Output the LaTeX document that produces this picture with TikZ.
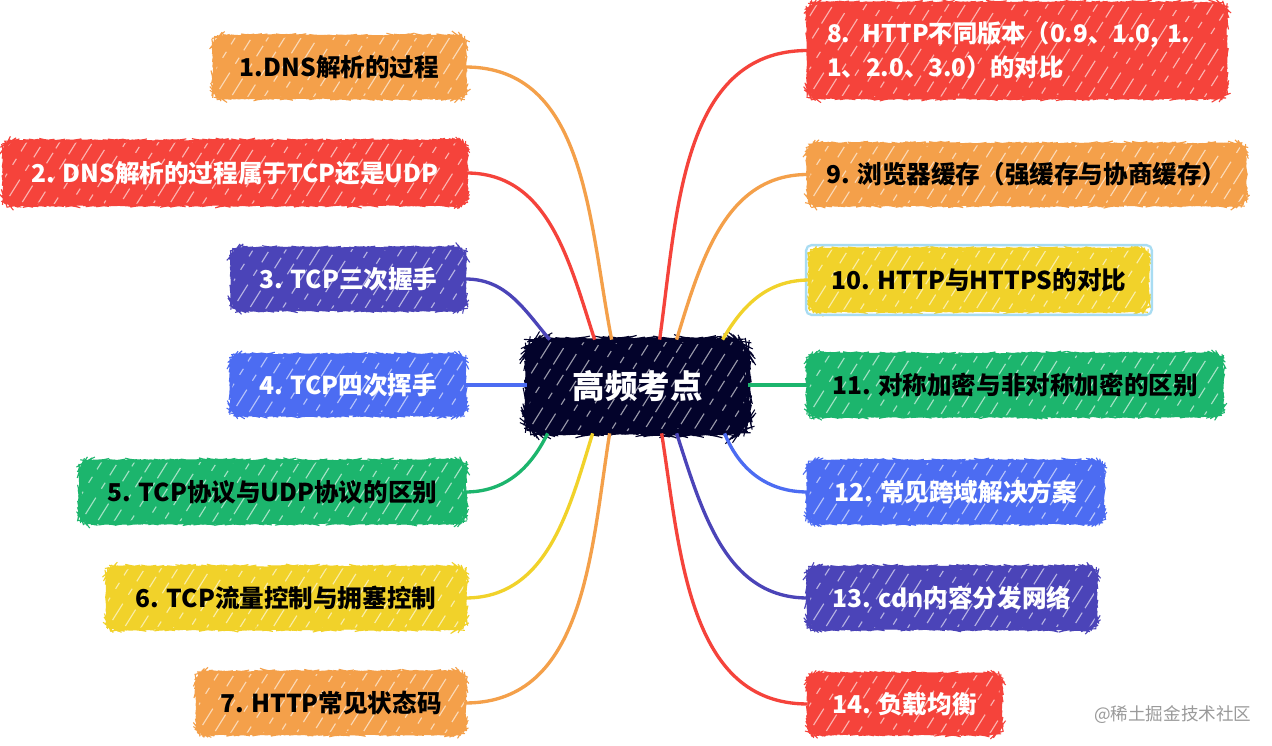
\documentclass[tikz,border=0pt]{standalone}
\usepackage{fontspec}
\setmainfont{Noto Sans CJK SC}
\usetikzlibrary{decorations.pathmorphing,calc}
\definecolor{cOr}{HTML}{F4A04A}
\definecolor{cRe}{HTML}{F5433B}
\definecolor{cIn}{HTML}{4B44B8}
\definecolor{cBl}{HTML}{4C6CF2}
\definecolor{cGr}{HTML}{1CB56D}
\definecolor{cYe}{HTML}{F1D22A}
\definecolor{cNa}{HTML}{03032B}
\definecolor{cSel}{HTML}{A8DCF2}
\definecolor{cWm}{HTML}{9A9A9A}
\tikzset{
 hatch/.style={path picture={\foreach \i in {-8,...,32}{\draw[white,opacity=.6,line width=.65pt,dash pattern=on 7pt off 3pt on 11pt off 6pt on 4pt off 5pt,dash phase={(\i+10)*4pt}] ([xshift=\i*0.33cm]path picture bounding box.south west) -- ++(58:3.6cm);}}},
 topic/.style n args={4}{draw=none, fill=#1, text=#2, rounded corners=6pt,
   minimum width=#3*0.02cm, minimum height=#4*0.02cm, inner sep=0pt,
   font=\bfseries\fontsize{14pt}{16pt}\selectfont, hatch,
   postaction={draw=#1,line width=.6pt,decorate,decoration={random steps,segment length=1.5pt,amplitude=.25pt}}},
 link/.style={line width=1.9pt, draw=#1},
}
\begin{document}
\begin{tikzpicture}[x=0.02cm,y=0.02cm]
\fill[white] (0,0) rectangle (1272,-746);
\useasboundingbox (0,0) rectangle (1272,-746);
% center
\node[topic={cNa}{white}{221}{93}, rounded corners=10pt, font=\bfseries\fontsize{18.5pt}{20pt}\selectfont] (c) at (637.5,-386.5) {高频考点};
% left
\node[topic={cOr}{black}{251}{62}] (n1) at (339.5,-67) {1.DNS解析的过程};
\node[topic={cRe}{white}{462}{64}] (n2) at (235,-173) {2. DNS解析的过程属于TCP还是UDP};
\node[topic={cIn}{white}{233}{62}] (n3) at (348.5,-279) {3. TCP三次握手};
\node[topic={cBl}{white}{234}{60}] (n4) at (348,-385) {4. TCP四次挥手};
\node[topic={cGr}{black}{385}{62}] (n5) at (272.5,-492) {5. TCP协议与UDP协议的区别};
\node[topic={cYe}{black}{358}{62}] (n6) at (286,-598) {6. TCP流量控制与拥塞控制};
\node[topic={cOr}{black}{268}{62}] (n7) at (331,-703) {7. HTTP常见状态码};
% right
\node[topic={cRe}{white}{418}{95}, text width=7.6cm, align=left, inner xsep=0.38cm, font=\bfseries\fontsize{13.8pt}{19.5pt}\selectfont] (n8) at (1017,-50.5) {8. HTTP不同版本（0.9、1.0, 1.\\1、2.0、3.0）的对比};
\node[topic={cOr}{black}{437}{61}] (n9) at (1026.5,-174.5) {9. 浏览器缓存（强缓存与协商缓存）};
\node[topic={cYe}{black}{338}{62}] (n10) at (979,-280) {10. HTTP与HTTPS的对比};
\draw[cSel, line width=1.3pt, rounded corners=3pt] ([shift={(-2pt,2pt)}]n10.north west) rectangle ([shift={(2pt,-2pt)}]n10.south east);
\node[topic={cGr}{black}{414}{62}] (n11) at (1015,-385) {11. 对称加密与非对称加密的区别};
\node[topic={cBl}{white}{295}{62}] (n12) at (955.5,-492) {12. 常见跨域解决方案};
\node[topic={cIn}{white}{288}{62}] (n13) at (952,-598) {13. cdn内容分发网络};
\node[topic={cRe}{white}{193}{60}] (n14) at (904.5,-704) {14. 负载均衡};
% links left
\draw[link=cOr] (n1.east) to[out=0,in=101] ([xshift=1.7cm]c.north west);
\draw[link=cRe] (n2.east) to[out=0,in=108] ([xshift=1.36cm]c.north west);
\draw[link=cIn] (n3.east) to[out=0,in=130] ([xshift=0.46cm]c.north west);
\draw[link=cBl] (n4.east) -- (n4.east -| c.west);
\draw[link=cGr] (n5.east) to[out=0,in=-116] ([xshift=0.42cm]c.south west);
\draw[link=cYe] (n6.east) to[out=0,in=-107] ([xshift=1.32cm]c.south west);
\draw[link=cOr] (n7.east) to[out=0,in=-99] ([xshift=1.66cm]c.south west);
% links right
\draw[link=cRe] (n8.west) to[out=180,in=82] ([xshift=2.66cm]c.north west);
\draw[link=cOr] (n9.west) to[out=180,in=73] ([xshift=3.0cm]c.north west);
\draw[link=cYe] (n10.west) to[out=180,in=60] ([xshift=3.92cm]c.north west);
\draw[link=cGr] (n11.west) -- (n11.west -| c.east);
\draw[link=cBl] (n12.west) to[out=180,in=-68] ([xshift=3.96cm]c.south west);
\draw[link=cIn] (n13.west) to[out=180,in=-72] ([xshift=3.0cm]c.south west);
\draw[link=cRe] (n14.west) to[out=180,in=-81] ([xshift=2.7cm]c.south west);
% watermark
\node[text=cWm, font=\fontsize{10pt}{12pt}\selectfont, anchor=west] (wm) at (1088,-715) {@稀土掘金技术社区};
\end{tikzpicture}
\end{document}
